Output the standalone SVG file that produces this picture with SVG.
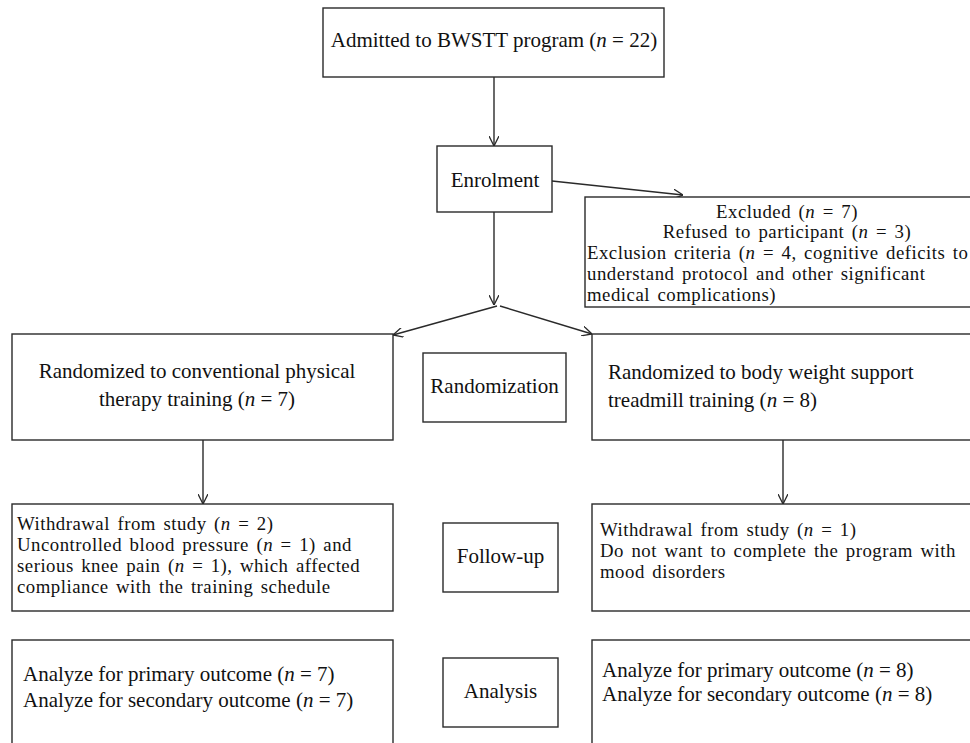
<svg xmlns="http://www.w3.org/2000/svg" width="970" height="743" viewBox="0 0 970 743">
<style>
.box{fill:#fff;stroke:#2a2a2a;stroke-width:1.4}
.t{font-family:"Liberation Serif","Times New Roman",serif;font-size:21px;fill:#111}
.tight{font-size:18.8px;letter-spacing:0.5px;word-spacing:2.3px}
.c{text-anchor:middle}
.i{font-style:italic}
.edge{stroke:#2a2a2a;stroke-width:1.4;fill:none;marker-end:url(#arr)}
</style>
<defs>
<marker id="arr" viewBox="0 0 10 10" refX="10" refY="5" markerWidth="10" markerHeight="10" markerUnits="userSpaceOnUse" orient="auto">
<path d="M0,0 L10,5 L0,10" fill="none" stroke="#2a2a2a" stroke-width="1.3"/>
</marker>
</defs>
<rect width="970" height="743" fill="#fff"/>
<g id="connectors">
<line class="edge" x1="494" y1="77" x2="494" y2="146"/>
<line class="edge" x1="552" y1="181" x2="683" y2="195"/>
<line class="edge" x1="494" y1="212" x2="494" y2="305"/>
<line class="edge" x1="497" y1="306" x2="393" y2="335"/>
<line class="edge" x1="500" y1="306" x2="592" y2="334"/>
<line class="edge" x1="203" y1="440" x2="203" y2="504"/>
<line class="edge" x1="783" y1="440" x2="783" y2="504"/>
</g>
<g id="admitted">
<rect class="box" x="323" y="8" width="341" height="69"/>
<text class="t c" x="494" y="47">Admitted to BWSTT program (<tspan class="i">n</tspan> = 22)</text>
</g>
<g id="enrolment">
<rect class="box" x="437" y="146" width="115" height="66"/>
<text class="t c" x="495" y="187">Enrolment</text>
</g>
<g id="excluded">
<rect class="box" x="585" y="197" width="410" height="110"/>
<text class="t tight"><tspan x="787" y="217.5" text-anchor="middle">Excluded (<tspan class="i">n</tspan> = 7)</tspan><tspan x="787" y="238.4" text-anchor="middle">Refused to participant (<tspan class="i">n</tspan> = 3)</tspan><tspan x="587" y="259.3">Exclusion criteria (<tspan class="i">n</tspan> = 4, cognitive deficits to</tspan><tspan x="587" y="280.2">understand protocol and other significant</tspan><tspan x="587" y="301.1">medical complications)</tspan></text>
</g>
<g id="rand-conventional">
<rect class="box" x="12" y="334" width="381" height="106"/>
<text class="t c"><tspan x="197" y="378">Randomized to conventional physical</tspan><tspan x="197" y="406">therapy training (<tspan class="i">n</tspan> = 7)</tspan></text>
</g>
<g id="randomization">
<rect class="box" x="423" y="353" width="143" height="69"/>
<text class="t c" x="494.5" y="393">Randomization</text>
</g>
<g id="rand-bwstt">
<rect class="box" x="592" y="334" width="400" height="106"/>
<text class="t"><tspan x="608" y="379">Randomized to body weight support</tspan><tspan x="608" y="407">treadmill training (<tspan class="i">n</tspan> = 8)</tspan></text>
</g>
<g id="withdrawal-left">
<rect class="box" x="12" y="504" width="381" height="107"/>
<text class="t tight"><tspan x="17" y="530">Withdrawal from study (<tspan class="i">n</tspan> = 2)</tspan><tspan x="17" y="550.9">Uncontrolled blood pressure (<tspan class="i">n</tspan> = 1) and</tspan><tspan x="17" y="571.8">serious knee pain (<tspan class="i">n</tspan> = 1), which affected</tspan><tspan x="17" y="592.7">compliance with the training schedule</tspan></text>
</g>
<g id="followup">
<rect class="box" x="443" y="523" width="115" height="69"/>
<text class="t c" x="500.5" y="563">Follow-up</text>
</g>
<g id="withdrawal-right">
<rect class="box" x="592" y="504" width="400" height="107"/>
<text class="t tight"><tspan x="600" y="536">Withdrawal from study (<tspan class="i">n</tspan> = 1)</tspan><tspan x="600" y="556.9">Do not want to complete the program with</tspan><tspan x="600" y="577.8">mood disorders</tspan></text>
</g>
<g id="analysis-left">
<rect class="box" x="12" y="640" width="381" height="130"/>
<text class="t"><tspan x="23" y="681">Analyze for primary outcome (<tspan class="i">n</tspan> = 7)</tspan><tspan x="23" y="707">Analyze for secondary outcome (<tspan class="i">n</tspan> = 7)</tspan></text>
</g>
<g id="analysis">
<rect class="box" x="443" y="658" width="115" height="69"/>
<text class="t c" x="500.5" y="698">Analysis</text>
</g>
<g id="analysis-right">
<rect class="box" x="592" y="640" width="400" height="130"/>
<text class="t"><tspan x="602" y="677">Analyze for primary outcome (<tspan class="i">n</tspan> = 8)</tspan><tspan x="602" y="700.5">Analyze for secondary outcome (<tspan class="i">n</tspan> = 8)</tspan></text>
</g>
</svg>
